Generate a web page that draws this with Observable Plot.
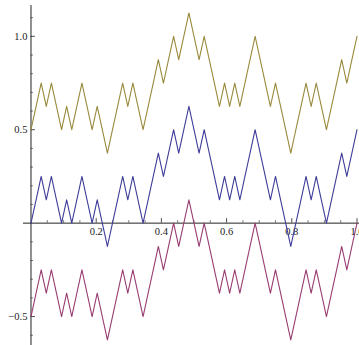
<!DOCTYPE html>
<html>
<head>
<meta charset="utf-8">
<script src="https://cdn.jsdelivr.net/npm/d3@7"></script>
<script src="https://cdn.jsdelivr.net/npm/@observablehq/plot@0.6"></script>
<style>
  html, body { margin: 0; padding: 0; background: #fff; overflow: hidden; }
  #chart svg { display: block; }
</style>
</head>
<body>
<div id="chart"></div>
<script>
const xs = [0, 0.015625, 0.03125, 0.046875, 0.0625, 0.078125, 0.09375, 0.109375, 0.125, 0.140625, 0.15625, 0.171875, 0.1875, 0.203125, 0.21875, 0.234375,
  0.25, 0.265625, 0.28125, 0.296875, 0.3125, 0.328125, 0.34375, 0.359375, 0.375, 0.390625, 0.40625, 0.421875, 0.4375, 0.453125, 0.46875, 0.484375,
  0.5, 0.515625, 0.53125, 0.546875, 0.5625, 0.578125, 0.59375, 0.609375, 0.625, 0.640625, 0.65625, 0.671875, 0.6875, 0.703125, 0.71875, 0.734375,
  0.75, 0.765625, 0.78125, 0.796875, 0.8125, 0.828125, 0.84375, 0.859375, 0.875, 0.890625, 0.90625, 0.921875, 0.9375, 0.953125, 0.96875, 0.984375, 1];

const blueSeries = [0,0.125,0.25,0.125,0.25,0.125,0,0.125,0,0.125,0.25,0.125,0,0.125,0,-0.125,
  0,0.125,0.25,0.125,0.25,0.125,0,0.125,0.25,0.375,0.25,0.375,0.5,0.375,0.5,0.625,
  0.5,0.375,0.5,0.375,0.25,0.125,0.25,0.125,0.25,0.125,0.25,0.375,0.5,0.375,0.25,0.125,
  0.25,0.125,0,-0.125,0,0.125,0.25,0.125,0.25,0.125,0,0.125,0.25,0.375,0.25,0.375,0.5];

const oliveSeries = [0.5,0.625,0.75,0.625,0.75,0.625,0.5,0.625,0.5,0.625,0.75,0.625,0.5,0.625,0.5,0.375,
  0.5,0.625,0.75,0.625,0.75,0.625,0.5,0.625,0.75,0.875,0.75,0.875,1,0.875,1,1.125,
  1,0.875,1,0.875,0.75,0.625,0.75,0.625,0.75,0.625,0.75,0.875,1,0.875,0.75,0.625,
  0.75,0.625,0.5,0.375,0.5,0.625,0.75,0.625,0.75,0.625,0.5,0.625,0.75,0.875,0.75,0.875,1];

const magentaSeries = [-0.5,-0.375,-0.25,-0.375,-0.25,-0.375,-0.5,-0.375,-0.5,-0.375,-0.25,-0.375,-0.5,-0.375,-0.5,-0.625,
  -0.5,-0.375,-0.25,-0.375,-0.25,-0.375,-0.5,-0.375,-0.25,-0.125,-0.25,-0.125,0,-0.125,0,0.125,
  0,-0.125,0,-0.125,-0.25,-0.375,-0.25,-0.375,-0.25,-0.375,-0.25,-0.125,0,-0.125,-0.25,-0.375,
  -0.25,-0.375,-0.5,-0.625,-0.5,-0.375,-0.25,-0.375,-0.25,-0.375,-0.5,-0.375,-0.25,-0.125,-0.25,-0.125,0];

const xMajorTicks = [0.2, 0.4, 0.6, 0.8, 1.0];
const xMajorLabels = ["0.2", "0.4", "0.6", "0.8", "1.0"];
const xMinorTicks = [0.05, 0.1, 0.15, 0.25, 0.3, 0.35, 0.45, 0.5, 0.55, 0.65, 0.7, 0.75, 0.85, 0.9, 0.95];
const yMajorTicks = [-0.5, 0.5, 1.0];
const yMajorLabels = ["\u22120.5", "0.5", "1.0"];
const yMinorTicks = [-0.6, -0.4, -0.3, -0.2, -0.1, 0.1, 0.2, 0.3, 0.4, 0.6, 0.7, 0.8, 0.9, 1.1];

const W = 359, H = 345;
const mL = 23, mR = 0, mT = 5, mB = 0;
const xDom = [-0.023, 1.0077];
const yDom = [-0.655, 1.165];
// pixel-to-data conversion for tick lengths
const pxX = (xDom[1] - xDom[0]) / (W - mL - mR);
const pxY = (yDom[1] - yDom[0]) / (H - mT - mB);

const mk = (arr) => arr.map((v, i) => ({x: xs[i], y: v}));
const axisColor = "#222";
const font = "'Liberation Serif', 'Times New Roman', serif";

const chart = Plot.plot({
  width: W, height: H,
  marginLeft: mL, marginRight: mR, marginTop: mT, marginBottom: mB,
  x: {domain: xDom, axis: null},
  y: {domain: yDom, axis: null},
  style: {fontFamily: font, background: "#fff"},
  marks: [
    // axes
    Plot.ruleY([0], {x1: xDom[0], x2: xDom[1], stroke: axisColor, strokeWidth: 1}),
    Plot.ruleX([0], {y1: yDom[0], y2: yDom[1] , stroke: axisColor, strokeWidth: 1}),
    Plot.ruleX(xMajorTicks, {x: d => d, y1: 0, y2: 4.5 * pxY, stroke: axisColor, strokeWidth: 0.8}),
    Plot.ruleX(xMinorTicks, {x: d => d, y1: 0, y2: 2.5 * pxY, stroke: axisColor, strokeWidth: 0.6}),
    Plot.ruleY(yMajorTicks, {y: d => d, x1: 0, x2: 4.5 * pxX, stroke: axisColor, strokeWidth: 0.8}),
    Plot.ruleY(yMinorTicks, {y: d => d, x1: 0, x2: 2.5 * pxX, stroke: axisColor, strokeWidth: 0.6}),
    Plot.text(xMajorTicks, {x: d => d, y: 0, text: (d, i) => xMajorLabels[i], dy: 8, lineAnchor: "middle", textAnchor: "middle", fontSize: 10.5, fill: "#222"}),
    Plot.text(yMajorTicks, {x: 0, y: d => d, text: (d, i) => yMajorLabels[i], dx: -3.5, textAnchor: "end", lineAnchor: "middle", fontSize: 10.5, fill: "#222"}),
    // series
    Plot.line(mk(blueSeries), {x: "x", y: "y", stroke: "rgb(63,61,153)", strokeWidth: 1.1}),
    Plot.line(mk(magentaSeries), {x: "x", y: "y", stroke: "rgb(153,61,113)", strokeWidth: 1.1}),
    Plot.line(mk(oliveSeries), {x: "x", y: "y", stroke: "rgb(153,138,61)", strokeWidth: 1.1})
  ]
});
document.getElementById("chart").appendChild(chart);
</script>
</body>
</html>
